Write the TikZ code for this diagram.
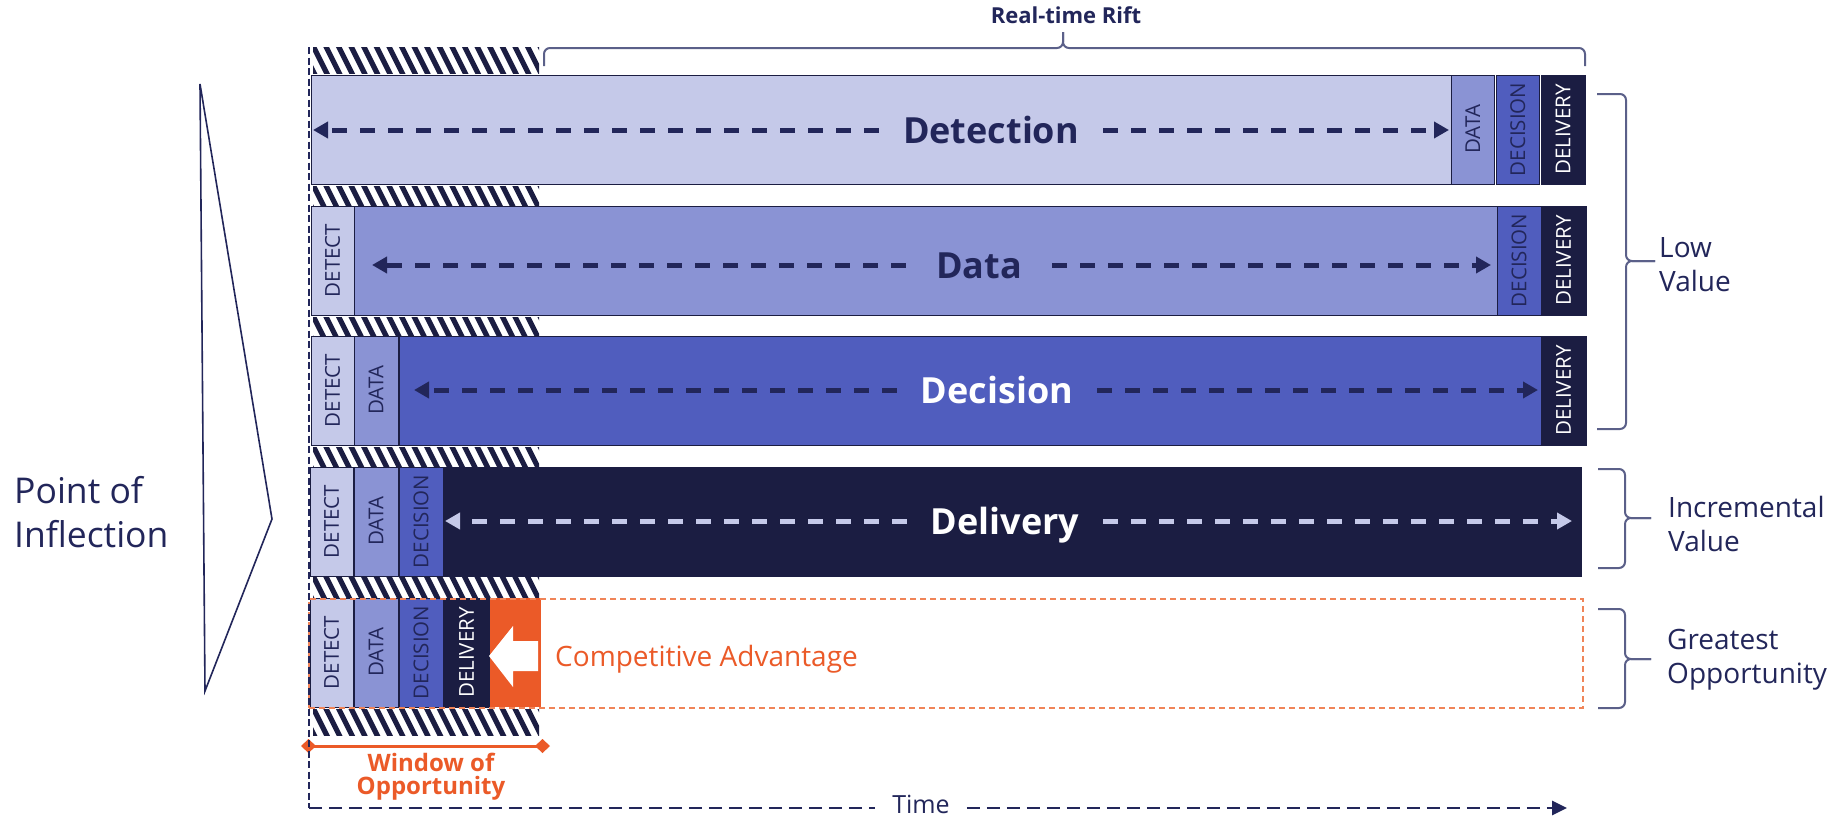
\documentclass[tikz,border=0pt]{standalone}
\usepackage{fontspec}
\setmainfont{Open Sans}
\usetikzlibrary{arrows.meta}

\definecolor{navy}{HTML}{22265A}
\definecolor{dlv}{HTML}{1B1D42}
\definecolor{cA}{HTML}{C5C9E9}
\definecolor{cB}{HTML}{8A93D4}
\definecolor{cC}{HTML}{505DBE}
\definecolor{orng}{HTML}{EB5A28}
\definecolor{orngL}{HTML}{F08458}
\definecolor{brc}{HTML}{5B6089}

% striped band marking the window of opportunity
\newcommand\hatchband[2]{%
  \begin{scope}
    \clip (313,#1) rectangle (539,#2);
    \foreach \k in {0,...,20}{%
      \draw[line width=5.2pt, dlv] ({300+\k*12.6},{#1-2}) -- ({300+\k*12.6+0.5*(#2-#1+4)},{#2+2});
    }
  \end{scope}}

\begin{document}
\begin{tikzpicture}[x=1pt,y=-1pt,
  seg/.style={draw=dlv, line width=0.8pt, inner sep=0pt, outer sep=0pt, anchor=north west, minimum height=109pt},
  vlab/.style={rotate=90, font=\fontsize{20.5}{24}\selectfont, text=navy, inner sep=0pt},
  big/.style={font=\fontsize{36}{40}\selectfont\bfseries, inner xsep=24pt, inner ysep=0pt, text height=26pt, text depth=0pt},
  darr/.style={line width=5pt, dash pattern=on 15pt off 13pt, -{Triangle[length=15pt,width=16pt]}},
  side/.style={font=\fontsize{28}{34}\selectfont, text=navy, align=left, anchor=west, inner sep=0pt},
  brace/.style={draw=brc, line width=2pt, rounded corners=6pt},
  vaxis/.style={draw=navy, line width=1.8pt, dash pattern=on 7pt off 3.5pt},
  haxis/.style={draw=navy, line width=2.8pt, dash pattern=on 13pt off 7pt},
]
\useasboundingbox (0,0) rectangle (1845,817);
\fill[white] (0,0) rectangle (1845,817);

% hatched bands
\hatchband{47}{73}
\hatchband{186}{205}
\hatchband{317}{335}
\hatchband{447}{466}
\hatchband{577}{597}
\hatchband{709}{735}

% row 1: detection dominates
\node[seg, fill=cA, minimum width=1140pt] (r1main) at (311,75) {};
\node[seg, fill=cB, minimum width=43.5pt] (r1data) at (1451,75) {};
\node[seg, fill=cC, minimum width=43.5pt] (r1dec) at (1496,75) {};
\node[seg, fill=dlv, minimum width=44pt] (r1del) at (1541,75) {};
\node[vlab] (r1dataT) at (r1data.center) {DATA};
\node[vlab] (r1decT) at (r1dec.center) {DECISION};
\node[vlab, text=white] (r1delT) at (r1del.center) {DELIVERY};

% row 2: data dominates
\node[seg, fill=cA, minimum width=43pt] (r2det) at (311,206) {};
\node[seg, fill=cB, minimum width=1143pt] (r2main) at (354,206) {};
\node[seg, fill=cC, minimum width=44pt] (r2dec) at (1497,206) {};
\node[seg, fill=dlv, minimum width=45pt] (r2del) at (1541,206) {};
\node[vlab] (r2detT) at (r2det.center) {DETECT};
\node[vlab] (r2decT) at (r2dec.center) {DECISION};
\node[vlab, text=white] (r2delT) at (r2del.center) {DELIVERY};

% row 3: decision dominates
\node[seg, fill=cA, minimum width=43pt] (r3det) at (311,336) {};
\node[seg, fill=cB, minimum width=44pt] (r3data) at (354,336) {};
\node[seg, fill=cC, minimum width=1142pt] (r3main) at (399,336) {};
\node[seg, fill=dlv, minimum width=45pt] (r3del) at (1541,336) {};
\node[vlab] (r3detT) at (r3det.center) {DETECT};
\node[vlab] (r3dataT) at (r3data.center) {DATA};
\node[vlab, text=white] (r3delT) at (r3del.center) {DELIVERY};

% row 4: delivery dominates
\node[seg, fill=cA, minimum width=43pt] (r4det) at (310,467) {};
\node[seg, fill=cB, minimum width=44pt] (r4data) at (354,467) {};
\node[seg, fill=cC, minimum width=44pt] (r4dec) at (399,467) {};
\node[seg, fill=dlv, minimum width=1138pt] (r4main) at (443,467) {};
\node[vlab] (r4detT) at (r4det.center) {DETECT};
\node[vlab] (r4dataT) at (r4data.center) {DATA};
\node[vlab] (r4decT) at (r4dec.center) {DECISION};

% row 5: all four steps inside the window
\node[seg, fill=cA, minimum width=43pt] (r5det) at (310,598) {};
\node[seg, fill=cB, minimum width=44pt] (r5data) at (354,598) {};
\node[seg, fill=cC, minimum width=44pt] (r5dec) at (399,598) {};
\node[seg, fill=dlv, minimum width=45pt] (r5del) at (444,598) {};
\node[seg, fill=orng, draw=none, minimum width=51pt] (r5adv) at (490,598) {};
\node[vlab] (r5detT) at (r5det.center) {DETECT};
\node[vlab] (r5dataT) at (r5data.center) {DATA};
\node[vlab] (r5decT) at (r5dec.center) {DECISION};
\node[vlab, text=white] (r5delT) at (r5del.center) {DELIVERY};
\fill[white] (489,656) -- (513,626) -- (513,641) -- (538,641) -- (538,671) -- (513,671) -- (513,687) -- cycle;
\node[seg, draw=orngL, line width=1.5pt, dash pattern=on 6pt off 4pt, minimum width=1274pt] (r5box) at (309,599) {};
\node[font=\fontsize{28}{34}\selectfont, text=orng, anchor=west, inner sep=0pt] (adv) at (555,659) {Competitive Advantage};

% phase labels with their spans
\coordinate (t1L) at (313,130);  \coordinate (t1R) at (1449,130);
\coordinate (t2L) at (372,265);  \coordinate (t2R) at (1491,265);
\coordinate (t3L) at (414,390);  \coordinate (t3R) at (1538,390);
\coordinate (t4L) at (445,521);  \coordinate (t4R) at (1572,521);

\node[big, text=navy] (lDet) at (991,130) {Detection};
\draw[darr, navy] (lDet.west) -- (t1L);
\draw[darr, navy] (lDet.east) -- (t1R);

\node[big, text=navy, inner xsep=30pt] (lData) at (979,265) {Data};
\draw[darr, navy] (lData.west) -- (t2L);
\draw[darr, navy] (lData.east) -- (t2R);

\node[big, text=white] (lDec) at (997,390) {Decision};
\draw[darr, navy] (lDec.west) -- (t3L);
\draw[darr, navy] (lDec.east) -- (t3R);

\node[big, text=white] (lDel) at (1005,521) {Delivery};
\draw[darr, cA] (lDel.west) -- (t4L);
\draw[darr, cA] (lDel.east) -- (t4R);

% top brace
\node[font=\fontsize{22}{26}\selectfont\bfseries, text=navy, inner sep=0pt] (rift) at (1066,15) {Real-time Rift};
\draw[brace] (544,66) -- (544,48) -- (1063,48) -- (1063,32);
\draw[brace] (1063,32) -- (1063,48) -- (1585,48) -- (1585,66);

% right braces
\draw[brace] (1597,94) -- (1626,94) -- (1626,261) -- (1655,261);
\draw[brace] (1655,261) -- (1626,261) -- (1626,429) -- (1597,429);
\node[side] (low) at (1659,265) {Low\\Value};

\draw[brace] (1598,469) -- (1625,469) -- (1625,518) -- (1651,518);
\draw[brace] (1651,518) -- (1625,518) -- (1625,568) -- (1598,568);
\node[side] (inc) at (1668,524) {Incremental\\Value};

\draw[brace] (1598,609) -- (1625,609) -- (1625,659) -- (1651,659);
\draw[brace] (1651,659) -- (1625,659) -- (1625,708) -- (1598,708);
\node[side] (great) at (1667,660) {Greatest\\Opportunity};

% point of inflection
\node[font=\fontsize{35.5}{44}\selectfont, text=navy, align=left, anchor=west, inner sep=0pt] (poi) at (14,512) {Point of\\Inflection};
\draw[navy, line width=1.6pt, line join=miter] (200,84) -- (272,519) -- (205,691) -- cycle;

% window of opportunity
\coordinate (wL) at (301,746);
\coordinate (wR) at (550,746);
\draw[orng, line width=3pt, {Diamond[length=15pt,width=14pt]}-{Diamond[length=15pt,width=14pt]}] (wL) -- (wR);
\node[font=\fontsize{24}{23}\selectfont\bfseries, text=orng, align=center, inner sep=0pt] (wlab) at (431,777) {Window of\\Opportunity};

% time axis
\node[font=\fontsize{25}{30}\selectfont, text=navy, inner xsep=17pt, inner ysep=0pt] (time) at (921,804) {Time};
\coordinate (axTop) at (309,47);
\coordinate (axC) at (309,808);
\coordinate (axEnd) at (1567,808);
\draw[vaxis] (axTop) -- (axC);
\draw[haxis] (axC) -- (time.west |- axC);
\draw[haxis, -{Triangle[length=15pt,width=14pt]}] (time.east |- axC) -- (axEnd);
\end{tikzpicture}
\end{document}
